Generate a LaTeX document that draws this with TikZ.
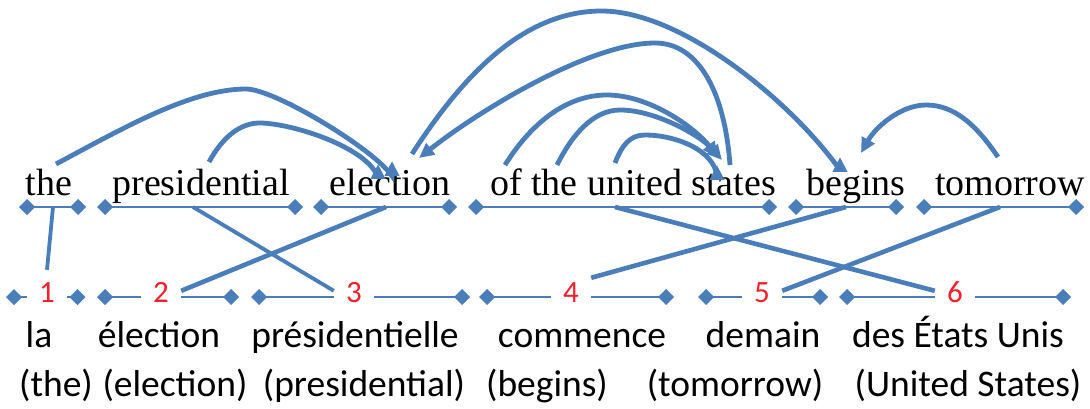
\documentclass[tikz,border=0pt]{standalone}
\usepackage{fontspec}
\setmainfont{Liberation Serif}
\newfontfamily\calib{Carlito}
\usetikzlibrary{arrows.meta,calc}
\definecolor{lb}{HTML}{4A7EBB}
\definecolor{nr}{HTML}{F2202B}
\begin{document}
\begin{tikzpicture}[x=1pt,y=-1pt,
  tw/.style={font=\fontsize{38}{40}\selectfont, inner sep=0pt, anchor=base},
  bw/.style={font=\calib\fontsize{37.5}{40}\selectfont, inner sep=0pt, anchor=base},
  num/.style={font=\calib\fontsize{31}{32}\selectfont, text=nr, inner sep=0pt,
    minimum width=40pt, text height=11pt, text depth=1pt},
  dia/.tip={Diamond[length=16pt,width=16pt]},
  seg/.style={lb, line width=2.6pt, {dia}-{dia}},
  half/.style={lb, line width=2.6pt, {dia}-},
  cross/.style={lb, line width=4.6pt},
  arc/.style={lb, line width=4.8pt, -{Triangle[length=15pt,width=14pt]}}]
\useasboundingbox (0,0) rectangle (1090,409);

% top words
\node[tw] (w1) at (49,196) {the};
\node[tw] (w2) at (201,196) {presidential};
\node[tw] (w3) at (390,196) {election};
\node[tw] (w4) at (633,196) {of the united states};
\node[tw] (w5) at (856,196) {begins};
\node[tw] (w6) at (1010,196) {tomorrow};

% top segments
\coordinate (s1l) at (19,207); \coordinate (s1r) at (86,207);
\coordinate (s2l) at (97,207); \coordinate (s2r) at (303,207);
\coordinate (s3l) at (313,207); \coordinate (s3r) at (457,207);
\coordinate (s4l) at (468,207); \coordinate (s4r) at (777,207);
\coordinate (s5l) at (788,207); \coordinate (s5r) at (904,207);
\coordinate (s6l) at (916,207); \coordinate (s6r) at (1084,207);
\foreach \i in {1,...,6} \draw[seg] (s\i l) -- (s\i r);

% number nodes
\node[num] (n1) at (47,297) {1};
\node[num] (n2) at (161,297) {2};
\node[num] (n3) at (354,297) {3};
\node[num] (n4) at (571,297) {4};
\node[num] (n5) at (762,297) {5};
\node[num] (n6) at (955,297) {6};

% bottom segments
\coordinate (b1l) at (6,297);   \coordinate (b1r) at (85.5,297);
\coordinate (b2l) at (97,297);  \coordinate (b2r) at (239,297);
\coordinate (b3l) at (251,297); \coordinate (b3r) at (470,297);
\coordinate (b4l) at (479,297); \coordinate (b4r) at (674,297);
\coordinate (b5l) at (698,297); \coordinate (b5r) at (828,297);
\coordinate (b6l) at (839,297); \coordinate (b6r) at (1071,297);
\foreach \i in {1,...,6} {
  \draw[half] (b\i l) -- (n\i.west);
  \draw[half] (b\i r) -- (n\i.east);
}

% bottom words
\node[bw] (f1) at (39,347) {la};
\node[bw] (f2) at (159,347) {élection};
\node[bw] (f3) at (355,347) {présidentielle};
\node[bw] (f4) at (582,347) {commence};
\node[bw] (f5) at (763,347) {demain};
\node[bw] (f6) at (958,347) {des États Unis};
\node[bw] (g1) at (56,396) {(the)};
\node[bw] (g2) at (175,396) {(election)};
\node[bw] (g3) at (364,396) {(presidential)};
\node[bw] (g4) at (547,396) {(begins)};
\node[bw] (g5) at (735,396) {(tomorrow)};
\node[bw] (g6) at (968,396) {(United States)};

% alignment connectors
\coordinate (c1) at (53,207);
\coordinate (c2) at (193,207);
\coordinate (c3) at (386,207);
\coordinate (c4) at (615,207);
\coordinate (c5) at (846,207);
\coordinate (c6) at (1000,207);
\draw[cross, line width=3.8pt] (c1) -- ([yshift=21pt]n1.north);
\draw[cross, line width=3.8pt] (c2) -- (n3.north west);
\draw[cross] (c3) -- (n2.north east);
\draw[cross] (c4) -- (n6.north west);
\draw[cross] (c5) -- ([yshift=13pt]n4.north east);
\draw[cross] (c6) -- (n5.north east);

% dependency arcs
\coordinate (a1s) at (56,164);   \coordinate (a1e) at (392,161);
\coordinate (a2s) at (209,162);  \coordinate (a2e) at (378,164);
\coordinate (a3s) at (412,154);  \coordinate (a3e) at (840,157);
\coordinate (a4s) at (730,165);  \coordinate (a4e) at (419,158);
\coordinate (a5s) at (505,165);  \coordinate (a5e) at (718,157);
\coordinate (a6s) at (557,165);  \coordinate (a6e) at (722,160);
\coordinate (a7s) at (615,163);  \coordinate (a7e) at (717,165);
\coordinate (a8s) at (998,157);  \coordinate (a8e) at (861,153);

\draw[arc] (a1s) .. controls (120,130) and (190,89) .. (246,89)
  .. controls (275,89) and (375,150) .. (392,176) -- (a1e);
\draw[arc] (a2s) .. controls (222,138) and (240,122) .. (262,123)
  .. controls (300,125) and (370,150) .. (378,178) -- (a2e);
\draw[arc] (a3s) .. controls (460,80) and (520,12) .. (600,11)
  .. controls (680,10) and (790,100) .. (840,170) -- (a3e);
\draw[arc] (a4s) .. controls (725,95) and (700,43) .. (655,43)
  .. controls (590,43) and (480,110) .. (a4e);
\draw[arc] (a5s) .. controls (530,125) and (565,95) .. (607,95)
  .. controls (650,95) and (695,128) .. (a5e);
\draw[arc] (a6s) .. controls (572,135) and (593,110) .. (620,110)
  .. controls (655,110) and (700,135) .. (a6e);
\draw[arc] (a7s) .. controls (622,145) and (630,135) .. (645,135)
  .. controls (675,135) and (715,150) .. (717,177) -- (a7e);
\draw[arc] (a8s) .. controls (975,123) and (953,105) .. (926,105)
  .. controls (900,105) and (875,128) .. (a8e);
\end{tikzpicture}
\end{document}
